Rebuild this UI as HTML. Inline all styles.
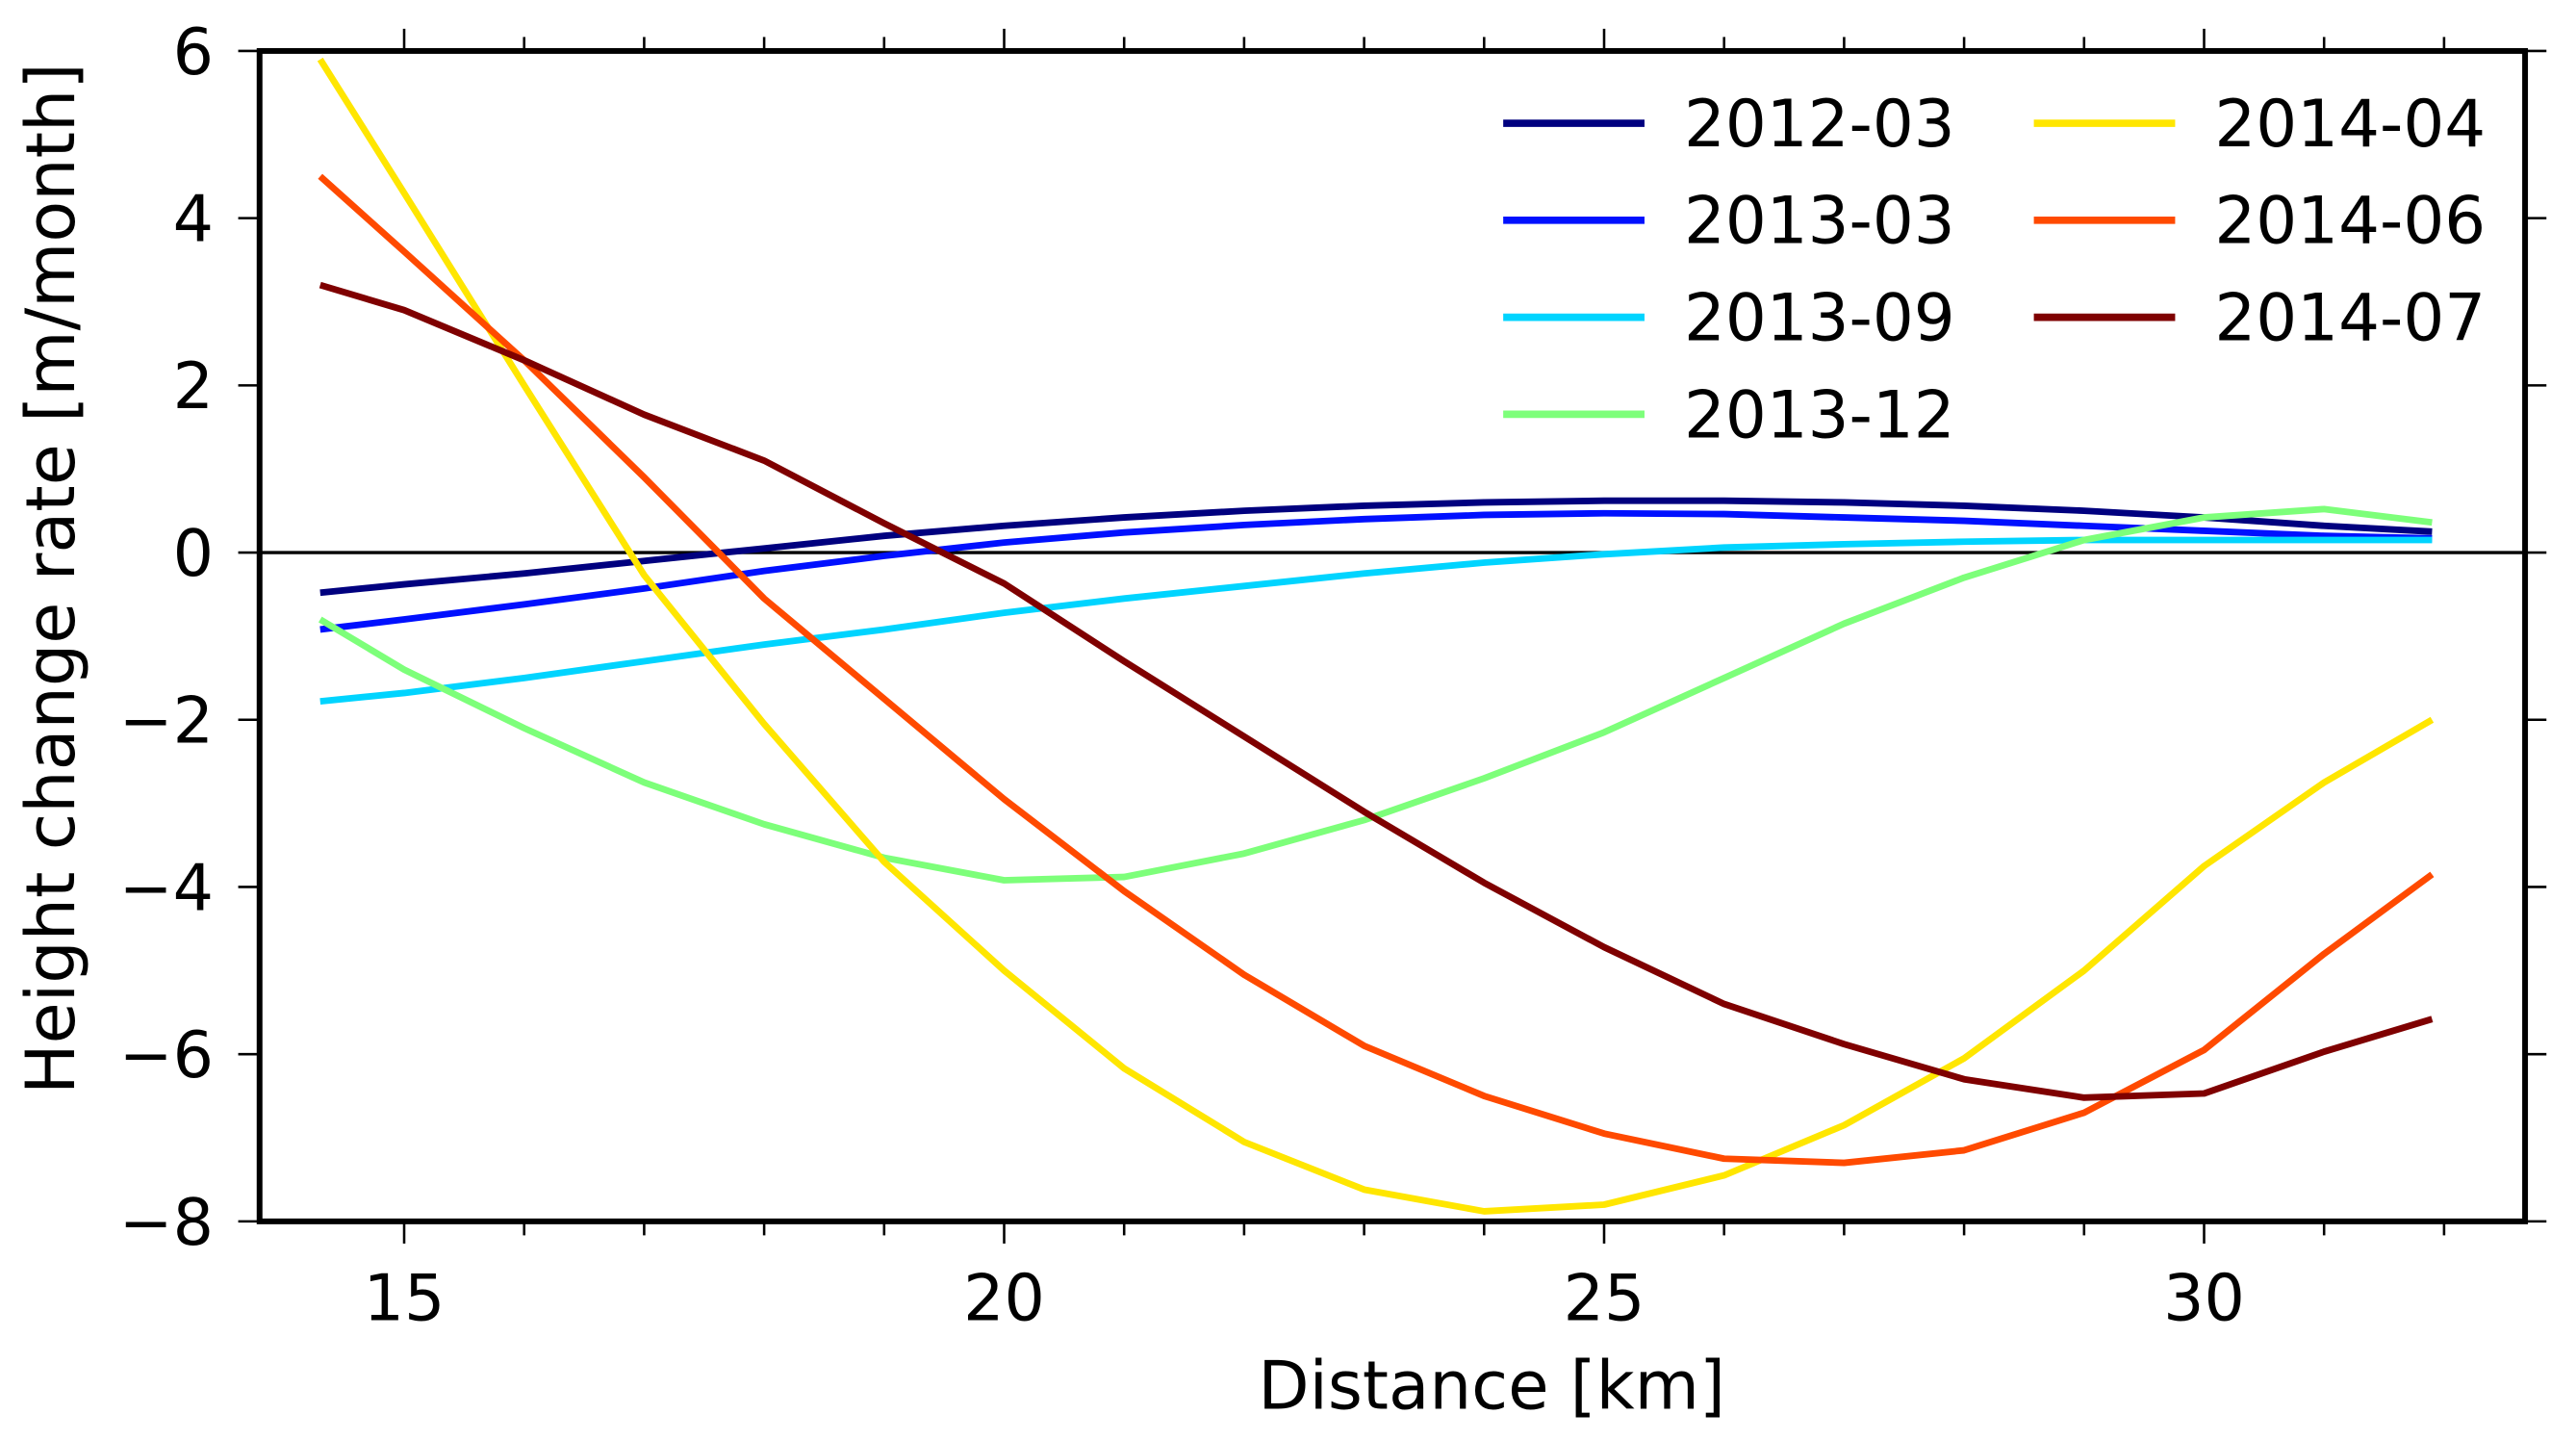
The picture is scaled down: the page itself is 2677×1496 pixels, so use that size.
<!DOCTYPE html>
<html><head><meta charset="utf-8"><style>
html,body{margin:0;padding:0;background:#fff}
svg{display:block}
text{font-family:"DejaVu Sans","Liberation Sans",sans-serif;fill:#000}
</style></head><body>
<svg id="chart" width="2677" height="1496" viewBox="0 0 1568 876" preserveAspectRatio="none" xmlns="http://www.w3.org/2000/svg">
<g id="marks"></g>
<g id="axes"></g>
<g id="legend"></g>
</svg>
<script>
const xTicks = [15, 20, 25, 30];
const yTicks = [-8, -6, -4, -2, 0, 2, 4, 6];
const seriesNames = ["2012-03","2013-03","2013-09","2013-12","2014-04","2014-06","2014-07"];
const seriesColors = ["#00007f","#0010ff","#00d4ff","#7dff7a","#ffe600","#ff4a00","#7f0000"];
const xs = [14.3,15,16,17,18,19,20,21,22,23,24,25,26,27,28,29,30,31,31.9];
const s201203 = [-0.48,-0.38,-0.25,-0.1,0.05,0.2,0.32,0.42,0.5,0.56,0.6,0.62,0.62,0.6,0.56,0.5,0.42,0.32,0.25];
const s201303 = [-0.92,-0.8,-0.62,-0.43,-0.22,-0.04,0.12,0.24,0.33,0.4,0.45,0.47,0.46,0.42,0.38,0.32,0.26,0.2,0.17];
const s201309 = [-1.78,-1.68,-1.5,-1.3,-1.1,-0.92,-0.72,-0.55,-0.4,-0.25,-0.12,-0.02,0.06,0.1,0.13,0.15,0.15,0.15,0.15];
const s201312 = [-0.8,-1.4,-2.1,-2.75,-3.25,-3.65,-3.92,-3.88,-3.6,-3.2,-2.7,-2.15,-1.5,-0.85,-0.3,0.15,0.42,0.52,0.36];
const s201404 = [5.9,4.3,2.0,-0.27,-2.05,-3.7,-5.0,-6.17,-7.05,-7.62,-7.88,-7.8,-7.45,-6.85,-6.05,-5.0,-3.75,-2.75,-2.0];
const s201406 = [4.5,3.6,2.3,0.9,-0.55,-1.75,-2.95,-4.05,-5.05,-5.9,-6.5,-6.95,-7.25,-7.3,-7.15,-6.7,-5.95,-4.8,-3.85];
const s201407 = [3.2,2.9,2.3,1.65,1.1,0.35,-0.37,-1.3,-2.2,-3.1,-3.95,-4.72,-5.4,-5.88,-6.3,-6.52,-6.47,-5.97,-5.58];
const allSeries = [s201203,s201303,s201309,s201312,s201404,s201406,s201407];

const NS = "http://www.w3.org/2000/svg";
const L = 158, R = 1537, T = 31, B = 743;
const X0 = 13.795, X1 = 32.675, Y0 = -8, Y1 = 6;
function xScale(v){ return L + (v - X0) / (X1 - X0) * (R - L); }
function yScale(v){ return B - (v - Y0) / (Y1 - Y0) * (B - T); }
function mk(tag, attrs, parent){ const e = document.createElementNS(NS, tag); for (const k in attrs) e.setAttribute(k, attrs[k]); parent.appendChild(e); return e; }

const marks = document.getElementById('marks');
const axes = document.getElementById('axes');
const legend = document.getElementById('legend');

const zl = mk('line', {x1:L, x2:R, y1:yScale(0), y2:yScale(0), stroke:'#000', 'stroke-width':2}, marks);



allSeries.forEach((s, i) => {
  const d = s.map((v, j) => (j ? 'L' : 'M') + xScale(xs[j]).toFixed(2) + ' ' + yScale(v).toFixed(2)).join(' ');
  const p = mk('path', {d:d, fill:'none', stroke:seriesColors[i], 'stroke-width':4, 'stroke-linejoin':'round'}, marks);
  
  
});

const fr = mk('rect', {x:L, y:T, width:R-L, height:B-T, fill:'none', stroke:'#000', 'stroke-width':3.5}, axes);



for (let v = 15; v <= 32; v++) {
  const major = v % 5 === 0;
  const len = major ? 12 : 7;
  const x = xScale(v);
  const t1 = mk('line', {x1:x, x2:x, y1:B+1.5, y2:B+1.5+len, stroke:'#000', 'stroke-width':1.5}, axes);
  
  
  const t2 = mk('line', {x1:x, x2:x, y1:T-1.5, y2:T-1.5-len, stroke:'#000', 'stroke-width':1.5}, axes);
  
  
}
xTicks.forEach(v => {
  const t = mk('text', {x:xScale(v), y:B+60, 'font-size':39, 'text-anchor':'middle'}, axes);
  t.textContent = v;
  
  
});
yTicks.forEach(v => {
  const y = yScale(v);
  const a = mk('line', {x1:L-1.5, x2:L-13, y1:y, y2:y, stroke:'#000', 'stroke-width':1.5}, axes);
  
  
  const b = mk('line', {x1:R+1.5, x2:R+13, y1:y, y2:y, stroke:'#000', 'stroke-width':1.5}, axes);
  
  
  const t = mk('text', {x:L-28, y:y+14, 'font-size':39, 'text-anchor':'end'}, axes);
  t.textContent = v < 0 ? '\u2212' + Math.abs(v) : String(v);
  
  
});
const xl = mk('text', {x:908, y:857, 'font-size':40.5, 'text-anchor':'middle'}, axes);
xl.textContent = 'Distance [km]';


const yl = mk('text', {x:0, y:0, 'font-size':41, 'text-anchor':'middle', transform:'translate(45 352) rotate(-90)'}, axes);
yl.textContent = 'Height change rate [m/month]';



seriesNames.forEach((n, i) => {
  const col = i < 4 ? 0 : 1;
  const row = i < 4 ? i : i - 4;
  const lx = col ? 1238 : 915;
  const ly = 75 + row * 59;
  const ln = mk('line', {x1:lx, x2:lx+86, y1:ly, y2:ly, stroke:seriesColors[i], 'stroke-width':4.5}, legend);
  
  
  const t = mk('text', {x:lx+110, y:ly+14, 'font-size':39.5}, legend);
  t.textContent = n;
  
  
});
</script>
</body></html>
